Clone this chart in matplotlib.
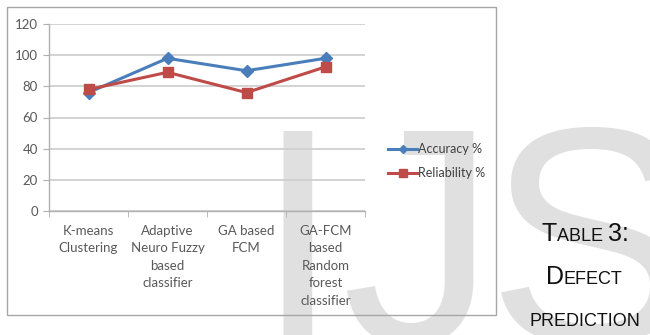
import matplotlib.pyplot as plt
from matplotlib.patches import Rectangle
from matplotlib.offsetbox import TextArea, HPacker, AnchoredOffsetbox

methods = ["K-means\nClustering", "Adaptive\nNeuro Fuzzy\nbased\nclassifier",
           "GA based\nFCM", "GA-FCM\nbased\nRandom\nforest\nclassifier"]
accuracy = [76, 98, 90, 98]
reliability = [78, 89, 76, 92.5]
yticks = [0, 20, 40, 60, 80, 100, 120]

W, H = 650, 335
fig = plt.figure(figsize=(6.5, 3.35), dpi=100)

def fx(px):
    return px / W

def fy(py):
    return 1 - py / H

# big light watermark letters behind everything
wm = dict(family="Liberation Sans", fontsize=222, color="#e0e0e0",
          va="baseline", zorder=0)
fig.text(fx(297), fy(343), "I", ha="center", **wm)
fig.text(fx(418), fy(343), "J", ha="center", **wm)
fig.text(fx(590), fy(343), "S", ha="center", **wm)

# chart border
fig.patches.append(Rectangle((fx(7), fy(315)), fx(489), (315 - 7) / H,
                             transform=fig.transFigure, fill=False,
                             edgecolor="#a6a6a6", lw=1.0, zorder=1))

ax = fig.add_axes([fx(49), fy(211), fx(316), (211 - 24) / H])
ax.set_facecolor("none")
ax.set_zorder(2)

x = list(range(len(methods)))
ax.plot(x, accuracy, color="#4a7ebb", lw=2.2, marker="D", ms=6,
        label="Accuracy %", zorder=3)
ax.plot(x, reliability, color="#be4b48", lw=2.2, marker="s", ms=7,
        label="Reliability %", zorder=3)

ax.set_xlim(-0.5, len(methods) - 0.5)
ax.set_ylim(0, 120)
ax.set_yticks(yticks)
ax.grid(axis="y", color="#d0d0d0", lw=1.3)
ax.set_axisbelow(True)

lab_font = dict(family="Lato", fontsize=9.5, color="#595959")
ax.set_xticks(x)
ax.set_xticklabels(methods, linespacing=1.55, **lab_font)
ax.tick_params(axis="x", which="major", length=0, pad=10)
ax.set_xticks([i - 0.5 for i in range(len(methods) + 1)], minor=True)
ax.tick_params(axis="x", which="minor", length=4, color="#b0b0b0",
               direction="out")
ax.tick_params(axis="y", length=4, color="#b0b0b0", pad=4)
for t in ax.get_yticklabels():
    t.set(**lab_font)

for s in ["top", "right"]:
    ax.spines[s].set_visible(False)
for s in ["left", "bottom"]:
    ax.spines[s].set_color("#b0b0b0")
    ax.spines[s].set_linewidth(1.0)

leg = fig.legend(loc="center left", bbox_to_anchor=(fx(377), fy(161)),
                 frameon=False, handlelength=2.3, handletextpad=0.1,
                 labelspacing=0.95, markerscale=0.75,
                 prop=dict(family="Lato", size=9), labelcolor="#404040")
leg.set_zorder(3)

# caption in small caps beside the chart
big = dict(family="Liberation Sans", fontsize=18, color="#111111")
small = dict(family="Liberation Sans", fontsize=13, color="#111111")

def caption_line(parts, cx, cy):
    boxes = [TextArea(s, textprops=big if b else small) for s, b in parts]
    pack = HPacker(children=boxes, align="baseline", pad=0, sep=0)
    box = AnchoredOffsetbox(loc="center", child=pack, frameon=False,
                            bbox_to_anchor=(fx(cx), fy(cy)),
                            bbox_transform=fig.transFigure, borderpad=0,
                            pad=0)
    box.set_zorder(3)
    fig.add_artist(box)

caption_line([("T", True), ("ABLE ", False), ("3:", True)], 585, 234)
caption_line([("D", True), ("EFECT", False)], 584, 277)
caption_line([("PREDICTION", False)], 585, 321)

fig.savefig("out.png", dpi=100)
